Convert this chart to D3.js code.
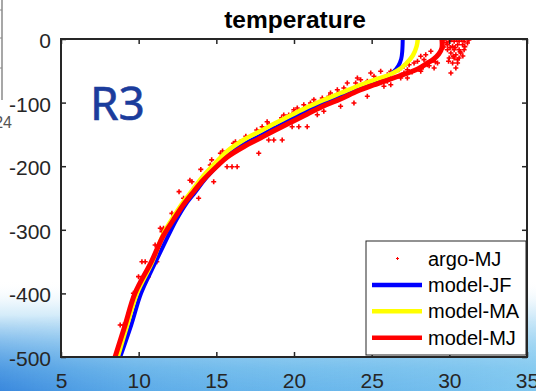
<!DOCTYPE html>
<html><head><meta charset="utf-8">
<script src="https://cdn.jsdelivr.net/npm/d3@7"></script>
<style>html,body{margin:0;padding:0;background:#fff;}svg{display:block;}</style>
</head><body>
<svg id="chart" width="536" height="391"></svg>
<script>
// ---------- data ----------
const xTickValues = [5, 10, 15, 20, 25, 30, 35];
const yTickValues = [0, -100, -200, -300, -400, -500];
const seriesNames = ["argo-MJ", "model-JF", "model-MA", "model-MJ"];

const modelJF_temp  = [27.0, 26.97, 26.9, 26.71, 26.39, 25.9, 25.39, 24.61, 23.65, 22.68, 21.71, 20.74, 19.9, 18.94, 17.84, 16.74, 15.77, 15.13, 14.29, 13.65, 13.0, 12.42, 11.9, 11.0, 10.16, 9.52, 8.81];
const modelJF_depth = [0, -18.9, -31.4, -42.5, -51.9, -59.7, -66.0, -72.3, -81.0, -92.0, -103.0, -114.0, -125.0, -137.6, -151.7, -165.9, -182.4, -198.1, -220.1, -240.6, -261.0, -284.6, -309.7, -355.3, -399.4, -449.7, -500];

const modelMA_temp  = [27.97, 27.9, 27.65, 27.19, 26.68, 26.03, 25.13, 24.1, 23.0, 21.9, 20.87, 19.97, 18.94, 17.84, 16.74, 15.71, 15.06, 14.16, 13.52, 12.87, 12.23, 11.65, 10.87, 9.9, 9.26, 8.65];
const modelMA_depth = [0, -11.0, -25.9, -39.3, -49.5, -57.4, -64.5, -73.9, -84.9, -95.9, -106.9, -117.9, -130.5, -144.7, -158.8, -176.1, -191.8, -215.4, -235.8, -256.3, -279.9, -303.5, -350.6, -399.4, -449.7, -500];

const modelMJ_temp  = [29.52, 29.52, 29.32, 29.0, 28.61, 27.97, 26.68, 25.13, 24.1, 23.0, 21.9, 20.87, 19.97, 18.94, 17.84, 16.74, 15.71, 15.06, 14.16, 13.52, 12.87, 12.23, 11.58, 10.81, 9.77, 9.13, 8.48];
const modelMJ_depth = [0, -14.2, -23.6, -31.4, -37.7, -47.2, -59.0, -72.3, -81.8, -94.3, -105.3, -117.9, -128.9, -141.5, -155.7, -169.8, -185.5, -199.7, -221.7, -240.6, -261.0, -284.6, -309.7, -350.6, -399.4, -449.7, -500];

const argo_temp = [
  29.99, 30.31, 30.63, 30.95, 29.88, 30.21, 30.53, 30.85, 31.17, 29.88, 30.31, 30.63, 30.95, 30.10, 30.42, 30.74, 29.99, 30.31, 30.63, 30.21, 30.53, 30.42, 30.10, 30.53, 29.65, 31.26, 29.65, 30.87,
  30.15, 30.47, 30.79, 29.80, 30.05, 30.37, 30.69, 31.0, 29.95, 30.25,
  28.81, 28.48, 28.16, 28.37, 27.95, 27.73, 27.41, 27.08, 26.76, 27.30, 29.24, 29.02, 28.59, 26.23, 26.01, 25.58, 24.94, 25.15, 26.01, 26.87, 27.08, 24.72, 24.29, 24.08, 23.97, 23.43, 23.21, 22.79, 22.89, 22.35, 22.25, 21.82, 21.28, 21.06, 20.63, 20.21, 19.99, 25.79,
  21.50, 21.92, 23.0, 23.86, 24.72, 26.23, 27.30, 28.16,
  29.1, 28.7, 28.2, 27.6, 26.9, 26.2, 25.5, 24.8, 24.2, 23.5, 22.8, 22.1, 21.4, 20.7, 20.0,
  19.34, 19.66, 19.99, 18.27, 17.95, 18.59, 19.88, 20.31, 20.85, 18.70, 18.37, 19.24, 16.23, 16.55, 15.26, 15.69, 17.73, 14.61, 15.69, 16.01, 16.34, 13.43, 14.08, 14.83, 12.89, 13.86, 12.14, 12.46, 11.60, 11.39,
  19.2, 18.4, 17.6, 16.9, 16.1, 15.4, 14.7, 14.0, 13.3, 12.6,
  11.60, 11.06, 11.28, 10.42, 10.21, 11.17, 9.99, 10.63, 9.66, 9.02, 8.70, 11.50, 8.81
];
const argo_depth = [
  -3.6, -3.6, -3.6, -3.6, -9.0, -11.5, -9.0, -9.0, -6.3, -16.8, -16.8, -16.8, -16.8, -22.0, -24.7, -22.0, -29.9, -29.9, -29.9, -37.7, -37.7, -45.6, -53.5, -32.5, -1.6, -1.6, -12.6, -26.7,
  -1.0, -1.0, -1.0, -6.0, -13.5, -13.5, -20.0, -12.0, -35.0, -27.0,
  -19.3, -24.7, -27.2, -32.5, -35.1, -37.7, -40.4, -42.9, -48.3, -48.3, -37.7, -45.6, -40.4, -50.8, -56.1, -50.8, -53.5, -58.6, -66.5, -61.3, -53.5, -66.5, -64.0, -61.3, -69.2, -69.2, -77.0, -79.7, -84.9, -84.9, -90.1, -92.8, -95.4, -100.6, -103.3, -108.5, -111.2, -74.4,
  -119.0, -113.7, -105.8, -100.6, -90.1, -71.9, -61.3, -50.8,
  -36.0, -42.0, -47.0, -52.0, -57.0, -61.0, -66.0, -72.0, -76.0, -83.0, -90.0, -96.0, -102.0, -108.0, -115.0,
  -119.5, -119.5, -116.8, -130.0, -137.9, -137.9, -137.9, -137.9, -137.9, -158.8, -158.8, -158.8, -161.5, -161.5, -179.7, -179.7, -179.7, -198.1, -200.8, -200.8, -200.8, -224.4, -224.4, -224.4, -250.5, -250.5, -274.1, -274.1, -297.6, -297.6,
  -124.0, -134.0, -143.0, -153.0, -164.0, -176.0, -190.0, -205.0, -222.0, -240.0,
  -300.3, -323.9, -323.9, -350.2, -350.2, -350.2, -373.7, -373.7, -399.8, -449.7, -494.2, -303.0, -449.7
];

// ---------- drawing ----------
const svg = d3.select("#chart");
const W = 536, H = 391;
const L = 61, R = 527, T = 39, B = 357;
const font = "Liberation Sans, Arial, sans-serif";

const defs = svg.append("defs");
const gv = defs.append("linearGradient").attr("id", "sky").attr("x1", 0).attr("y1", 0).attr("x2", 0).attr("y2", 1);
[["0", "#ffffff", 0], ["0.25", "#e2f2fb", 1], ["0.55", "#a6d7f4", 1], ["0.8", "#7cc3ee", 1], ["1", "#6cb9ec", 1]]
  .forEach(s => gv.append("stop").attr("offset", s[0]).attr("stop-color", s[1]).attr("stop-opacity", s[2]));
const gh = defs.append("linearGradient").attr("id", "skyh").attr("x1", 0).attr("y1", 0).attr("x2", 1).attr("y2", 0);
[["0", "#2a78d8", 0.75], ["0.25", "#3f8fe0", 0.35], ["0.55", "#5aa8e8", 0.15], ["1", "#a8e4f8", 0.35]]
  .forEach(s => gh.append("stop").attr("offset", s[0]).attr("stop-color", s[1]).attr("stop-opacity", s[2]));
const gm = defs.append("linearGradient").attr("id", "fade").attr("x1", 0).attr("y1", 0).attr("x2", 0).attr("y2", 1);
gm.append("stop").attr("offset", "0").attr("stop-color", "#fff").attr("stop-opacity", 0);
gm.append("stop").attr("offset", "1").attr("stop-color", "#fff").attr("stop-opacity", 1);
defs.append("mask").attr("id", "fademask").attr("maskUnits", "userSpaceOnUse")
  .attr("x", 0).attr("y", 0).attr("width", W).attr("height", H)
  .append("rect").attr("x", 0).attr("y", 315).attr("width", W).attr("height", H - 315).attr("fill", "url(#fade)");
defs.append("clipPath").attr("id", "plotclip").append("rect")
  .attr("x", L).attr("y", T).attr("width", R - L).attr("height", B - T);

svg.append("rect").attr("width", W).attr("height", H).attr("fill", "#fff");
svg.append("rect").attr("x", 0).attr("y", 280).attr("width", W).attr("height", H - 280).attr("fill", "url(#sky)");
svg.append("rect").attr("x", 0).attr("y", 315).attr("width", W).attr("height", H - 315)
  .attr("fill", "url(#skyh)").attr("mask", "url(#fademask)");

// left background fragment
svg.append("line").attr("x1", 2).attr("x2", 2).attr("y1", 0).attr("y2", 100).attr("stroke", "#8a8a8a").attr("stroke-width", 1.5);
[10, 38, 68].forEach(v => svg.append("line").attr("x1", 0).attr("x2", 2).attr("y1", v).attr("y2", v).attr("stroke", "#8a8a8a"));
svg.append("text").attr("x", 12).attr("y", 128).attr("text-anchor", "end")
  .attr("font-family", font).attr("font-size", 16).attr("fill", "#555").text("24");

// plot area
svg.append("rect").attr("x", L).attr("y", T).attr("width", R - L).attr("height", B - T).attr("fill", "#fff");

const x = d3.scaleLinear().domain([5, 35]).range([L, R]);
const y = d3.scaleLinear().domain([-500, 0]).range([B, T]);

// title
svg.append("text").attr("x", 295).attr("y", 28).attr("text-anchor", "middle")
  .attr("font-family", font).attr("font-weight", "bold")
  .attr("font-size", 24.5).attr("fill", "#000").text("temperature");

// R3 annotation
svg.append("text").attr("x", 90).attr("y", 120)
  .attr("font-family", "Noto Sans, DejaVu Sans, sans-serif").attr("font-size", 46)
  .attr("fill", "#1b3c9c").attr("stroke", "#1b3c9c").attr("stroke-width", 0.6).text("R3");

const plot = svg.append("g").attr("clip-path", "url(#plotclip)");

// argo markers
const argo = argo_temp.map((t, i) => [t, argo_depth[i]]);
plot.append("g").selectAll("path").data(argo).join("path")
  .attr("d", d => `M${x(d[0]) - 2.5},${y(d[1])}h5M${x(d[0])},${y(d[1]) - 2.5}v5`)
  .attr("stroke", "#ff0000").attr("stroke-width", 1.6).attr("fill", "none");

const line = d3.line().x(d => x(d[0])).y(d => y(d[1])).curve(d3.curveCatmullRom.alpha(0.5));
const models = [
  {t: modelJF_temp, d: modelJF_depth, c: "#0000ff", w: 4},
  {t: modelMA_temp, d: modelMA_depth, c: "#ffff00", w: 4.5},
  {t: modelMJ_temp, d: modelMJ_depth, c: "#ff0000", w: 5}
];
models.forEach(m => {
  plot.append("path").datum(m.t.map((t, i) => [t, m.d[i]]))
    .attr("d", line).attr("fill", "none").attr("stroke", m.c).attr("stroke-width", m.w)
    .attr("stroke-linejoin", "round");
});

// axes
const fmt = d => String(d);
const axB = svg.append("g").attr("transform", `translate(0,${B})`)
  .call(d3.axisBottom(x).tickValues(xTickValues).tickSize(-5).tickPadding(16).tickFormat(fmt));
const axL = svg.append("g").attr("transform", `translate(${L},0)`)
  .call(d3.axisLeft(y).tickValues(yTickValues).tickSize(-5).tickPadding(10).tickFormat(fmt));
const axT = svg.append("g").attr("transform", `translate(0,${T})`)
  .call(d3.axisTop(x).tickValues(xTickValues).tickSize(-5).tickFormat(""));
const axR = svg.append("g").attr("transform", `translate(${R},0)`)
  .call(d3.axisRight(y).tickValues(yTickValues).tickSize(-5).tickFormat(""));
[axB, axL, axT, axR].forEach(a => {
  a.select(".domain").remove();
  a.selectAll("line").attr("stroke", "#262626").attr("stroke-width", 1.5);
  a.selectAll("text").attr("font-family", font).attr("font-size", 21).attr("fill", "#262626");
});
axL.selectAll("text").attr("dy", "0.4em");
svg.append("rect").attr("x", L).attr("y", T).attr("width", R - L).attr("height", B - T)
  .attr("fill", "none").attr("stroke", "#262626").attr("stroke-width", 2);

// legend
const lg = svg.append("g");
lg.append("rect").attr("x", 366).attr("y", 241).attr("width", R - 366 - 1).attr("height", 114)
  .attr("fill", "#fff").attr("stroke", "#262626").attr("stroke-width", 1);
const legendColors = ["#ff0000", "#0000ff", "#ffff00", "#ff0000"];
seriesNames.forEach((name, i) => {
  const cy = 258.5 + i * 26.4;
  if (i === 0) {
    lg.append("path").attr("d", `M396,${cy}h3M397.5,${cy - 1.5}v3`).attr("stroke", "#ff0000").attr("stroke-width", 1);
  } else {
    lg.append("line").attr("x1", 372).attr("x2", 422).attr("y1", cy).attr("y2", cy)
      .attr("stroke", legendColors[i]).attr("stroke-width", 4.5);
  }
  lg.append("text").attr("x", 428).attr("y", cy + 7).attr("font-family", font)
    .attr("font-size", 20).attr("fill", "#000").text(name);
});
</script>
</body></html>
